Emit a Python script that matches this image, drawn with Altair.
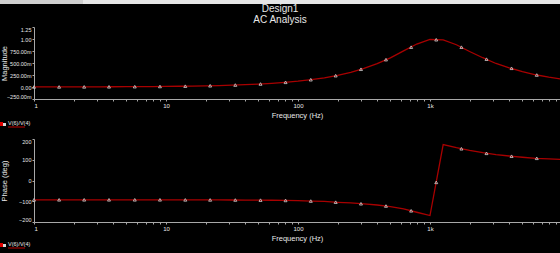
import altair as alt
import pandas as pd

# ---------------- data ----------------
freq = [1, 1.259, 1.585, 1.995, 2.512, 3.162, 3.981, 5.012, 6.31, 7.943,
        10, 12.59, 15.85, 19.95, 25.12, 31.62, 39.81, 50.12, 63.1, 79.43,
        100, 125.9, 158.5, 199.5, 251.2, 316.2, 398.1, 501.2, 631, 794.3,
        1000, 1259, 1585, 1995, 2512, 3162, 3981, 5012, 6310, 7943, 10000]
magnitude = [0.0012, 0.0015, 0.0019, 0.0024, 0.0030, 0.0038, 0.0048, 0.0061, 0.0076, 0.0096,
             0.0121, 0.0153, 0.0192, 0.0242, 0.0304, 0.0383, 0.0482, 0.0607, 0.0765, 0.0963,
             0.121, 0.153, 0.192, 0.243, 0.306, 0.386, 0.486, 0.608, 0.752, 0.895,
             0.990, 0.980, 0.88, 0.74, 0.61, 0.49, 0.40, 0.32, 0.255, 0.205, 0.165]
phase = [-93, -93, -93, -93, -93, -93, -93, -93, -93, -93,
         -93.2, -93.3, -93.4, -93.5, -93.7, -93.9, -94.2, -94.6, -95.2, -96,
         -97, -99, -101, -105, -108, -113, -118, -126, -137, -153,
         -169, 173, 158, 145, 134, 125, 118, 112, 107, 104, 101]

marker_freq = [1, 1.55, 2.4, 3.7, 5.8, 9.0, 14, 21.6, 33.5, 52, 80.5,
               125, 193, 300, 464, 720, 1115, 1730, 2680, 4150, 6440]
marker_mag = [0.0012, 0.0019, 0.0029, 0.0045, 0.007, 0.011, 0.017, 0.026, 0.041, 0.063, 0.098,
              0.152, 0.236, 0.37, 0.57, 0.83, 0.985, 0.83, 0.58, 0.39, 0.25]
marker_phase = [-93, -93, -93, -93, -93, -93, -93.3, -93.6, -94, -94.7, -96,
                -99, -104.5, -112, -123, -146, -9, 153, 131, 117, 107]

mag_ticks = [-0.25, 0, 0.25, 0.5, 0.75, 1.0, 1.25]
phase_ticks = [-200, -100, 0, 100, 200]
x_ticks = [1, 2, 3, 4, 5, 6, 7, 8, 9,
           10, 20, 30, 40, 50, 60, 70, 80, 90,
           100, 200, 300, 400, 500, 600, 700, 800, 900,
           1000, 2000, 3000, 4000, 5000, 6000, 7000, 8000, 9000]

title_lines = ["Design1", "AC Analysis"]
legend_label = "V(6)/V(4)"

# ---------------- styling ----------------
FONT = "Liberation Sans"
W, H1, H2 = 526, 72, 83
XMAX = 9660
LINE_COLOR = "#a80000"
AXIS_COLOR = "#a8a8a8"
TEXT_COLOR = "#e8e8e8"

line_df = pd.DataFrame({"f": freq, "mag": magnitude, "phase": phase})
mk_df = pd.DataFrame({"f": marker_freq, "mag": marker_mag, "phase": marker_phase})
one = pd.DataFrame({"k": [0]})

xscale = alt.Scale(type="log", domain=[1, XMAX], nice=False)


def xaxis():
    return alt.Axis(
        values=x_ticks,
        labelExpr="datum.value==1?'1':datum.value==10?'10':datum.value==100?'100':datum.value==1000?'1k':''",
        title="Frequency (Hz)", titleX=W / 2, titleY=16, titleAlign="center",
        titleBaseline="middle", titleAngle=0,
        grid=False, tickSize=2, labelPadding=1.5, labelOverlap=False,
        domainColor=AXIS_COLOR, tickColor=AXIS_COLOR, labelColor=TEXT_COLOR,
        titleColor=TEXT_COLOR, labelFont=FONT, titleFont=FONT,
        labelFontSize=6, titleFontSize=7.5, titleFontWeight="normal",
    )


def yaxis(title, values, label_expr, height):
    return alt.Axis(
        values=values, labelExpr=label_expr, title=title,
        titleX=-30, titleY=height / 2, titleAngle=270, titleAlign="center",
        titleBaseline="middle",
        grid=False, tickSize=2, labelPadding=1, labelOverlap=False,
        labelFlush=True, labelFlushOffset=0,
        domainColor=AXIS_COLOR, tickColor=AXIS_COLOR, labelColor=TEXT_COLOR,
        titleColor=TEXT_COLOR, labelFont=FONT, titleFont=FONT,
        labelFontSize=5.5, titleFontSize=7.5, titleFontWeight="normal",
    )


def legend_layers(y0):
    sq = alt.Chart(one).mark_rect(color="#e00000").encode(
        x=alt.value(-34), x2=alt.value(-31), y=alt.value(y0 - 2), y2=alt.value(y0 + 2))
    icon = alt.Chart(one).mark_rect(color="#d8d8d8").encode(
        x=alt.value(-31), x2=alt.value(-28), y=alt.value(y0 - 1), y2=alt.value(y0 + 2))
    txt = alt.Chart(one).mark_text(
        text=legend_label, align="left", baseline="middle", font=FONT,
        fontSize=5.5, color=TEXT_COLOR).encode(x=alt.value(-26), y=alt.value(y0 - 1))
    ul = alt.Chart(one).mark_rule(color="#c00000", strokeWidth=1).encode(
        x=alt.value(-26), x2=alt.value(-9), y=alt.value(y0 + 3))
    return [sq, icon, txt, ul]


def panel(field, height, yscale, axis):
    line = alt.Chart(line_df).mark_line(color=LINE_COLOR, strokeWidth=1.3, clip=True).encode(
        x=alt.X("f:Q", scale=xscale, axis=xaxis()),
        y=alt.Y(f"{field}:Q", scale=yscale, axis=axis),
    )
    pts = alt.Chart(mk_df).mark_point(
        shape="triangle-up", filled=False, size=9, opacity=1,
        color="#d0d0d0", strokeWidth=0.8).encode(
        x=alt.X("f:Q", scale=xscale, axis=xaxis()),
        y=alt.Y(f"{field}:Q", scale=yscale, axis=axis),
    )
    return line, pts


# ---------- top panel (magnitude) ----------
mag_expr = ("datum.value==0 ? '0.00' : abs(datum.value)>=1 ? format(datum.value,'.2f') : "
            "format(datum.value*1000,'.2f')+'m'")
mline, mpts = panel("mag", H1,
                    alt.Scale(domain=[-0.25, 1.25], nice=False, zero=False),
                    yaxis("Magnitude", mag_ticks, mag_expr, H1))

strip = alt.Chart(one).mark_rect(color="#e6e6e6").encode(
    x=alt.value(-34), x2=alt.value(W), y=alt.value(-27), y2=alt.value(-23))
tab = alt.Chart(one).mark_rect(color="#cfcfcf").encode(
    x=alt.value(-34), x2=alt.value(49), y=alt.value(-27), y2=alt.value(-23))
t1 = alt.Chart(one).mark_text(text=title_lines[0], align="center", baseline="middle",
                              font=FONT, fontSize=10, color=TEXT_COLOR).encode(
    x=alt.value(246), y=alt.value(-18))
t2 = alt.Chart(one).mark_text(text=title_lines[1], align="center", baseline="middle",
                              font=FONT, fontSize=10, color=TEXT_COLOR).encode(
    x=alt.value(246), y=alt.value(-7))

top = alt.layer(strip, tab, t1, t2, *legend_layers(97), mline, mpts).properties(
    width=W, height=H1)

# ---------- bottom panel (phase) ----------
pline, ppts = panel("phase", H2,
                    alt.Scale(domain=[-200, 200], nice=False, zero=False),
                    yaxis("Phase (deg)", phase_ticks, "format(datum.value,'d')", H2))
filler = alt.Chart(one).mark_rect(color="black").encode(
    x=alt.value(-34), x2=alt.value(W), y=alt.value(108), y2=alt.value(114))

bottom = alt.layer(filler, *legend_layers(106), pline, ppts).properties(
    width=W, height=H2)

chart = alt.vconcat(top, bottom, spacing=40, bounds="flush").properties(
    padding=0, background="black"
).configure_view(stroke=None)

chart.save("out.html", embed_options={"renderer": "svg", "actions": False})
